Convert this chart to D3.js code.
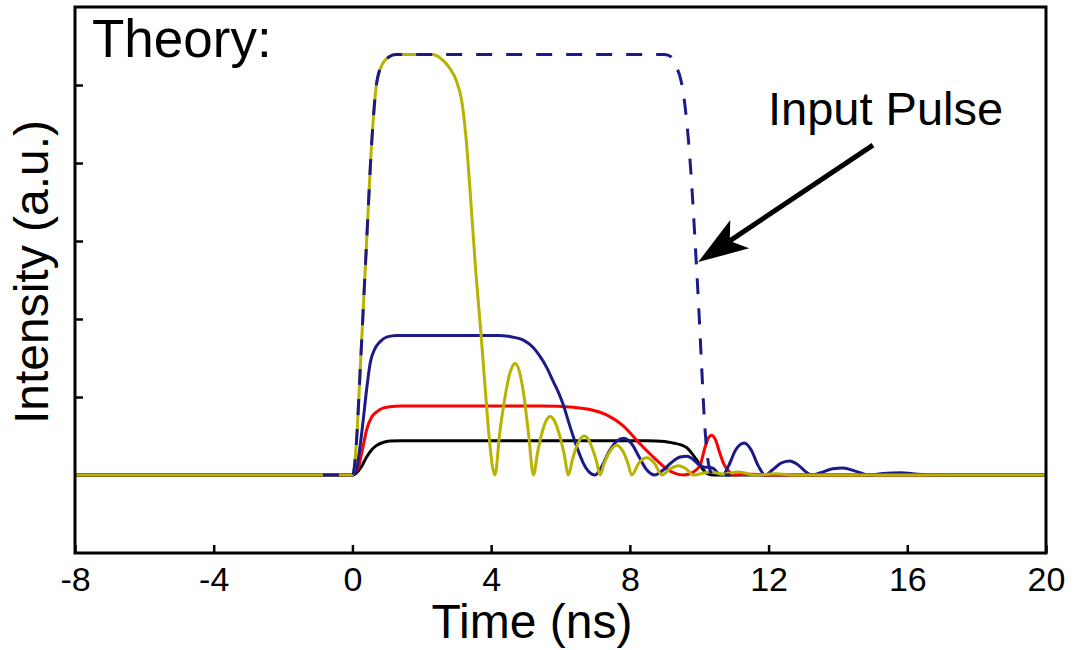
<!DOCTYPE html>
<html>
<head>
<meta charset="utf-8">
<script src="https://cdn.jsdelivr.net/npm/d3@7"></script>
<style>
  body { margin: 0; background: #fff; }
  svg text { font-family: "Liberation Sans", Arial, Helvetica, sans-serif; fill: #000; }
</style>
</head>
<body>
<svg id="chart" width="1075" height="650"></svg>
<script>
// values: [time (ns), intensity (a.u.)]
const xTicks = [-8, -4, 0, 4, 8, 12, 16, 20];
const yTicks = [1, 2, 3, 4, 5];

const blackPts = [[-8,0],[0,0],[0.1,0.02],[0.25,0.1],[0.41,0.23],[0.55,0.32],[0.7,0.38],[0.9,0.42],[1.08,0.435],[1.4,0.44],
  [8.5,0.44],[9.0,0.43],[9.25,0.41],[9.45,0.39],[9.64,0.35],[9.8,0.27],[9.93,0.19],[10.08,0.09],[10.22,0.02],[10.4,0],[20,0]];

const redPts = [[-8,0],[0,0],[0.08,0.03],[0.17,0.1],[0.3,0.35],[0.41,0.58],[0.55,0.74],[0.7,0.81],[0.9,0.86],[1.08,0.875],[1.4,0.885],
  [5.5,0.885],[6.37,0.868],[6.85,0.84],[7.33,0.77],[7.81,0.63],[8.29,0.40],[8.77,0.19],[9.0,0.1],[9.25,0.03],[9.55,0],
  [9.8,0.03],[10.02,0.12],[10.17,0.36],[10.27,0.48],[10.36,0.51],[10.47,0.45],[10.58,0.3],[10.7,0.15],[10.85,0.05],[11.0,0],
  [11.5,0.01],[12,0],[20,0]];

const navyPts = [[-8,0],[0,0],[0.1,0.05],[0.2,0.3],[0.31,0.7],[0.41,1.1],[0.51,1.43],[0.65,1.62],[0.8,1.71],[1.0,1.77],[1.28,1.79],
  [4.2,1.79],[4.6,1.77],[4.93,1.73],[5.2,1.64],[5.41,1.52],[5.6,1.38],[5.79,1.2],[5.95,1.05],[6.08,0.9],[6.22,0.7],[6.37,0.49],
  [6.52,0.3],[6.66,0.15],[6.82,0.04],[7.0,0],
  [7.2,0.12],[7.4,0.3],[7.62,0.43],[7.83,0.47],[8.05,0.4],[8.28,0.22],[8.48,0.07],[8.72,0],
  [8.95,0.06],[9.2,0.16],[9.45,0.23],[9.65,0.24],[9.85,0.19],[10.0,0.13],[10.15,0.1],[10.3,0.1],[10.42,0.08],[10.55,0.02],[10.68,0],
  [10.85,0.12],[11.05,0.32],[11.3,0.41],[11.5,0.32],[11.7,0.12],[11.9,0],
  [12.1,0.06],[12.35,0.15],[12.6,0.18],[12.85,0.13],[13.05,0.05],[13.25,0],
  [13.5,0.03],[13.85,0.08],[14.15,0.09],[14.5,0.05],[14.9,0],[15.3,0.02],[15.8,0.03],[16.3,0.01],[16.8,0],[20,0]];

const yellowPts = [[-8,0],[0,0],[0.05,0.08],[0.12,0.45],[0.22,1.31],[0.41,3.0],[0.56,4.29],[0.70,5.03],[0.88,5.28],[1.05,5.36],[1.25,5.39],
  [2.3,5.39],[2.55,5.34],[2.8,5.22],[3.0,5.05],[3.15,4.8],[3.28,4.3],[3.4,3.6],[3.55,2.65],[3.7,1.85],[3.83,1.1],[3.95,0.45],[4.04,0.1],[4.11,0],
  [4.25,0.55],[4.40,1.0],[4.55,1.32],[4.69,1.43],[4.82,1.32],[4.95,1.0],[5.08,0.52],[5.22,0],
  [5.34,0.29],[5.46,0.53],[5.58,0.69],[5.70,0.75],[5.83,0.69],[5.96,0.53],[6.10,0.28],[6.23,0],
  [6.34,0.19],[6.45,0.35],[6.57,0.46],[6.68,0.5],[6.80,0.46],[6.91,0.35],[7.03,0.19],[7.14,0],
  [7.26,0.15],[7.38,0.27],[7.50,0.35],[7.62,0.38],[7.73,0.35],[7.84,0.27],[7.95,0.14],[8.05,0],
  [8.27,0.16],[8.49,0.22],[8.71,0.15],[8.92,0],
  [9.16,0.08],[9.40,0.12],[9.62,0.08],[9.83,0],
  [10.3,0.04],[10.7,0.01],[11.15,0.04],[11.6,0],[12.2,0.015],[12.8,0],[20,0]];

const inputPts = [[-0.85,0],[0,0],[0.05,0.08],[0.12,0.45],[0.22,1.31],[0.41,3.0],[0.56,4.29],[0.70,5.03],[0.88,5.28],[1.05,5.36],[1.25,5.39],
  [9.0,5.39],[9.2,5.36],[9.3,5.26],[9.45,5.1],[9.55,4.87],[9.68,4.34],[9.78,3.75],[9.88,3.0],[9.98,2.2],[10.08,1.3],[10.15,0.7],
  [10.22,0.3],[10.3,0.08],[10.4,0],[10.9,0]];

// arrow for the "Input Pulse" note, in data units
const arrowTail = [15.01, 4.23];
const arrowTip = [9.97, 2.73];

const svg = d3.select("#chart");
const x = d3.scaleLinear().domain([-8, 20]).range([75, 1046]);
const y = d3.scaleLinear().domain([-1, 6]).range([553, 7]);

const line = d3.line()
  .x(d => x(d[0]))
  .y(d => y(d[1]))
  .curve(d3.curveMonotoneX);

const series = [
  {pts: blackPts, color: "#000000"},
  {pts: redPts, color: "#ff0000"},
  {pts: navyPts, color: "#1c1a88"},
  {pts: yellowPts, color: "#b8b300"}
];

svg.append("g").selectAll("path")
  .data(series)
  .enter().append("path")
  .attr("d", d => line(d.pts))
  .attr("fill", "none")
  .attr("stroke", d => d.color)
  .attr("stroke-width", 3)
  .attr("stroke-linejoin", "round");

svg.append("path")
  .attr("d", line(inputPts))
  .attr("fill", "none")
  .attr("stroke", "#1c1a88")
  .attr("stroke-width", 3)
  .attr("stroke-dasharray", "16,14");

// axes: ticks point inward, frame drawn separately
const xAxis = svg.append("g")
  .attr("transform", "translate(0," + y(-1) + ")")
  .call(d3.axisBottom(x).tickValues(xTicks).tickSizeInner(-8).tickSizeOuter(0).tickPadding(14).tickFormat(d => String(d)));
xAxis.select(".domain").remove();
xAxis.selectAll("line").attr("stroke", "#000").attr("stroke-width", 2.5);
xAxis.selectAll("text").attr("font-size", 34).style("font-family", "Liberation Sans, Arial, sans-serif");

const yAxis = svg.append("g")
  .attr("transform", "translate(" + x(-8) + ",0)")
  .call(d3.axisLeft(y).tickValues(yTicks).tickSizeInner(-8).tickSizeOuter(0).tickFormat(""));
yAxis.select(".domain").remove();
yAxis.selectAll("line").attr("stroke", "#000").attr("stroke-width", 2.5);

svg.append("rect")
  .attr("x", x(-8)).attr("y", y(6))
  .attr("width", x(20) - x(-8)).attr("height", y(-1) - y(6))
  .attr("fill", "none").attr("stroke", "#000").attr("stroke-width", 3);

// labels
svg.append("text").attr("x", 92).attr("y", 57).attr("font-size", 53).text("Theory:");
svg.append("text").attr("x", 768).attr("y", 125).attr("font-size", 47).text("Input Pulse");
svg.append("text").attr("x", 532).attr("y", 638).attr("font-size", 48).attr("text-anchor", "middle").text("Time (ns)");
svg.append("text")
  .attr("transform", "translate(48,272) rotate(-90)")
  .attr("font-size", 48).attr("text-anchor", "middle").text("Intensity (a.u.)");

// arrow
const tx = x(arrowTail[0]), ty = y(arrowTail[1]);
const hx = x(arrowTip[0]), hy = y(arrowTip[1]);
const len = Math.hypot(tx - hx, ty - hy);
const ux = (tx - hx) / len, uy = (ty - hy) / len;
const nx = -uy, ny = ux;
const headLen = 50, headHalf = 17, notch = 38;
svg.append("line")
  .attr("x1", tx).attr("y1", ty)
  .attr("x2", hx + ux * notch).attr("y2", hy + uy * notch)
  .attr("stroke", "#000").attr("stroke-width", 5);
svg.append("path")
  .attr("d", "M" + hx + "," + hy +
    "L" + (hx + ux * headLen + nx * headHalf) + "," + (hy + uy * headLen + ny * headHalf) +
    "L" + (hx + ux * notch) + "," + (hy + uy * notch) +
    "L" + (hx + ux * headLen - nx * headHalf) + "," + (hy + uy * headLen - ny * headHalf) + "Z")
  .attr("fill", "#000");
</script>
</body>
</html>
